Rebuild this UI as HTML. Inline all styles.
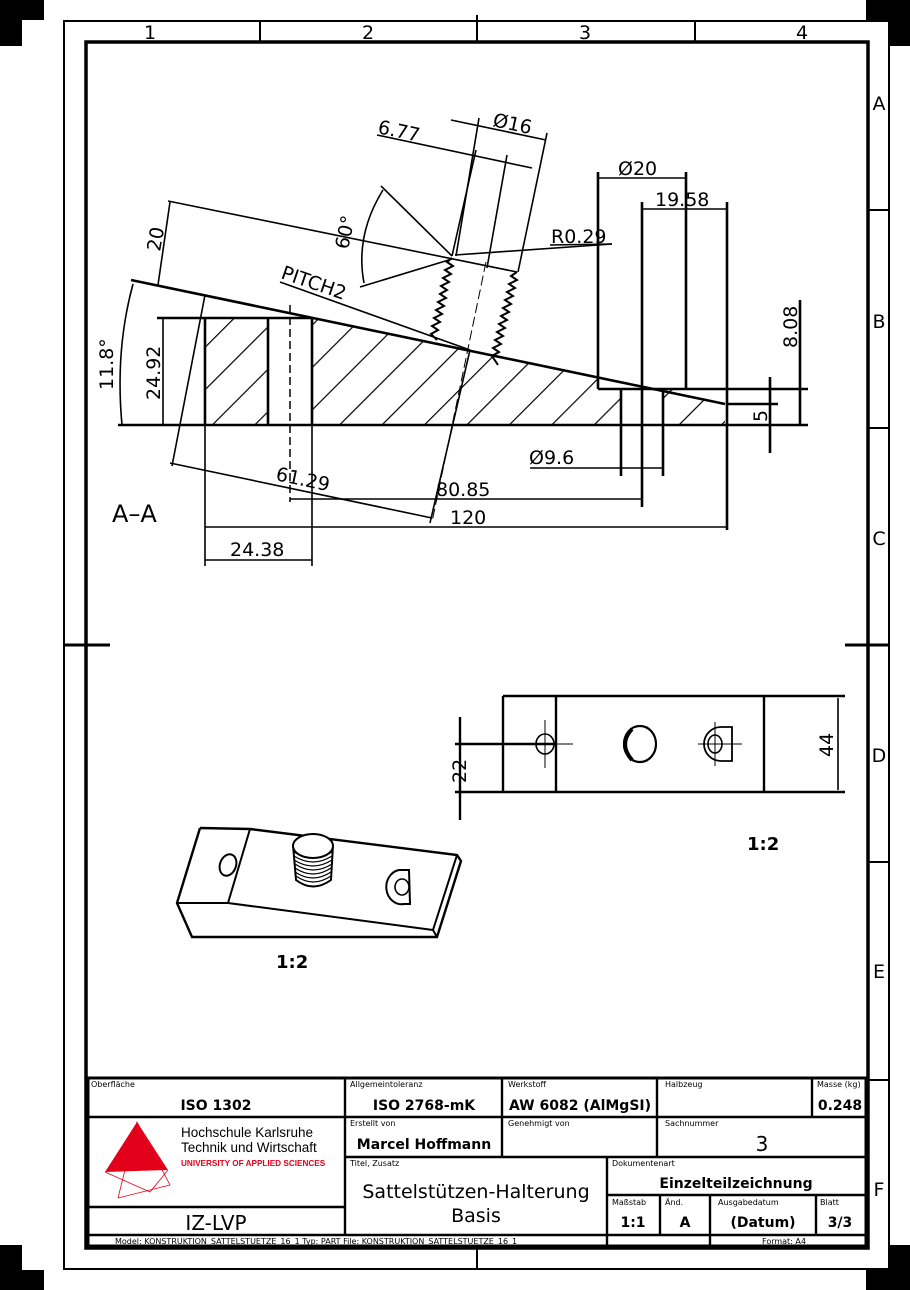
<!DOCTYPE html>
<html><head><meta charset="utf-8"><style>
html,body{margin:0;padding:0;background:#fff;}
svg{display:block}
text{font-family:"DejaVu Sans","Liberation Sans",sans-serif;fill:#000}
</style></head><body>
<svg width="910" height="1290" viewBox="0 0 910 1290" xmlns="http://www.w3.org/2000/svg">
<defs>
<pattern id="h" patternUnits="userSpaceOnUse" width="30" height="30" patternTransform="rotate(45)">
<line x1="0" y1="0" x2="0" y2="30" stroke="#000" stroke-width="2.4"/>
</pattern>
</defs>
<!-- corner marks -->
<rect x="0" y="0" width="44" height="20" fill="#000"/><rect x="0" y="20" width="22" height="26" fill="#000"/>
<rect x="866" y="0" width="44" height="20" fill="#000"/><rect x="888" y="20" width="22" height="26" fill="#000"/>
<rect x="0" y="1270" width="44" height="20" fill="#000"/><rect x="0" y="1245" width="22" height="26" fill="#000"/>
<rect x="866" y="1270" width="44" height="20" fill="#000"/><rect x="888" y="1245" width="22" height="26" fill="#000"/>
<!-- frames -->
<g fill="none" stroke="#000">
<rect x="64" y="21" width="825" height="1248" stroke-width="2"/>
<rect x="86" y="42" width="782" height="1206" stroke-width="3.5"/>
<g stroke-width="2">
<line x1="260" y1="21" x2="260" y2="42"/><line x1="477" y1="15" x2="477" y2="42"/><line x1="695" y1="21" x2="695" y2="42"/>
<line x1="477" y1="1248" x2="477" y2="1270"/>
<line x1="868" y1="210" x2="889" y2="210"/><line x1="868" y1="428" x2="889" y2="428"/><line x1="868" y1="862" x2="889" y2="862"/><line x1="868" y1="1080" x2="889" y2="1080"/>
<line x1="64" y1="645" x2="110" y2="645" stroke-width="3"/><line x1="845" y1="645" x2="889" y2="645" stroke-width="3"/>
</g></g>
<g font-size="19" text-anchor="middle">
<text x="150" y="39">1</text><text x="368" y="39">2</text><text x="585" y="39">3</text><text x="802" y="39">4</text>
<text x="879" y="110">A</text><text x="879" y="328">B</text><text x="879" y="545">C</text><text x="879" y="762">D</text><text x="879" y="978">E</text><text x="879" y="1196">F</text>
</g>

<!-- section view hatching -->
<rect x="205" y="318" width="63" height="107" fill="url(#h)"/>
<polygon points="312,318 598,378 598,389 621,389 621,425 312,425" fill="url(#h)"/>
<polygon points="663,389 686,389 686,394 725,404 725,425 663,425" fill="url(#h)"/>

<g fill="none" stroke="#000" stroke-width="2.6">
<line x1="118" y1="425" x2="808" y2="425"/>
<line x1="157" y1="318" x2="312" y2="318"/>
<line x1="131" y1="280" x2="725" y2="404"/>
<line x1="205" y1="318" x2="205" y2="425"/>
<line x1="268" y1="318" x2="268" y2="425"/>
<line x1="312" y1="318" x2="312" y2="425"/>
<line x1="598" y1="172" x2="598" y2="389"/>
<line x1="686" y1="172" x2="686" y2="389"/>
<line x1="642" y1="202" x2="642" y2="507"/>
<line x1="727" y1="202" x2="727" y2="530"/>
<line x1="621" y1="389" x2="621" y2="476"/>
<line x1="663" y1="389" x2="663" y2="476"/>
<line x1="598" y1="389" x2="808" y2="389"/>
<line x1="727" y1="404" x2="778" y2="404"/>
<line x1="800" y1="300" x2="800" y2="425"/>
<line x1="770" y1="377" x2="770" y2="453"/>
</g>
<line x1="290" y1="305" x2="290" y2="502" stroke="#000" stroke-width="1.5" stroke-dasharray="8,4"/>
<line x1="486" y1="262" x2="432" y2="522" stroke="#000" stroke-width="1" stroke-dasharray="10,4"/>
<!-- threads -->
<g fill="none" stroke="#000" stroke-width="2">
<polyline points="452,258 447,262 453,266 445,270 451,274 443,278 449,282 441,286 447,290 440,294 446,298 438,302 444,306 436,310 442,314 434,318 440,322 432,326 438,330 431,334 437,340"/>
<polyline points="517,272 511,276 517,280 509,284 515,288 507,292 513,296 505,300 511,304 503,308 509,312 501,316 507,320 499,324 505,328 497,332 503,336 495,340 501,344 493,348 499,352 492,356 498,365"/>
</g>
<!-- dims in section -->
<g fill="none" stroke="#000" stroke-width="1.6">
<line x1="168" y1="201" x2="517" y2="272"/>
<line x1="170" y1="202" x2="158" y2="285"/>
<path d="M133,284 Q115,350 122,425"/>
<line x1="163" y1="318" x2="163" y2="425"/>
<line x1="377" y1="135" x2="532" y2="168"/>
<line x1="451" y1="120" x2="546" y2="140"/>
<line x1="479" y1="118" x2="456" y2="256"/>
<line x1="476" y1="150" x2="452" y2="256"/>
<line x1="507" y1="155" x2="487" y2="268"/>
<line x1="547" y1="133" x2="518" y2="272"/>
<line x1="381" y1="186" x2="452" y2="256"/>
<line x1="360" y1="287" x2="452" y2="259"/>
<path d="M383,190 Q355,235 364,283"/>
<line x1="280" y1="282" x2="470" y2="350"/>
<line x1="455" y1="255" x2="612" y2="244"/>
<line x1="550" y1="245" x2="612" y2="244"/>
<line x1="598" y1="178" x2="686" y2="178"/>
<line x1="642" y1="209" x2="727" y2="209"/>
<line x1="530" y1="468" x2="663" y2="468"/>
<line x1="290" y1="499" x2="642" y2="499"/>
<line x1="205" y1="527" x2="727" y2="527"/>
<line x1="205" y1="425" x2="205" y2="566"/>
<line x1="312" y1="425" x2="312" y2="566"/>
<line x1="205" y1="560" x2="312" y2="560"/>
<line x1="205" y1="295" x2="172" y2="466"/>
<line x1="170" y1="463" x2="432" y2="518"/>
<line x1="470" y1="350" x2="430" y2="523"/>
</g>
<g font-size="19">
<text x="377" y="133" transform="rotate(12 377 133)">6.77</text>
<text x="492" y="126" transform="rotate(12 492 126)">Ø16</text>
<text x="160" y="252" transform="rotate(-80 160 252)">20</text>
<text x="348" y="250" transform="rotate(-78 348 250)">60°</text>
<text x="280" y="278" transform="rotate(19 280 278)">PITCH2</text>
<text x="551" y="243">R0.29</text>
<text x="618" y="175">Ø20</text>
<text x="655" y="206">19.58</text>
<text x="797" y="348" transform="rotate(-90 797 348)">8.08</text>
<text x="767" y="422" transform="rotate(-90 767 422)">5</text>
<text x="113" y="390" transform="rotate(-90 113 390)">11.8°</text>
<text x="160" y="400" transform="rotate(-90 160 400)">24.92</text>
<text x="529" y="464">Ø9.6</text>
<text x="275" y="480" transform="rotate(12 275 480)">61.29</text>
<text x="436" y="496">80.85</text>
<text x="450" y="524">120</text>
<text x="230" y="556">24.38</text>
<text x="112" y="522" font-size="24">A–A</text>
</g>

<!-- top view -->
<g fill="none" stroke="#000" stroke-width="2.4">
<line x1="503" y1="696" x2="845" y2="696"/>
<line x1="455" y1="792" x2="845" y2="792"/>
<line x1="503" y1="696" x2="503" y2="792"/>
<line x1="556" y1="696" x2="556" y2="792"/>
<line x1="764" y1="696" x2="764" y2="792"/>
<line x1="460" y1="717" x2="460" y2="820"/>
<line x1="455" y1="744" x2="556" y2="744"/>
<line x1="838" y1="698" x2="838" y2="790" stroke-width="1.6"/>
<ellipse cx="545" cy="744" rx="9" ry="10" stroke-width="1.6"/>
<ellipse cx="640" cy="744" rx="16" ry="18" stroke-width="2.2"/>
<path d="M632,729 Q618,744 632,760" stroke-width="4"/>
<ellipse cx="715" cy="744" rx="7" ry="9" stroke-width="1.6"/>
<path d="M732,727 L721,727 A17,17 0 0 0 721,761 L732,761 Z" stroke-width="1.8"/>
</g>
<g stroke="#000" stroke-width="1">
<line x1="545" y1="720" x2="545" y2="768"/><line x1="532" y1="744" x2="573" y2="744"/>
<line x1="715" y1="722" x2="715" y2="766"/><line x1="698" y1="744" x2="742" y2="744"/>
</g>
<g font-size="19">
<text x="466" y="783" transform="rotate(-90 466 783)">22</text>
<text x="833" y="757" transform="rotate(-90 833 757)">44</text>
</g>
<text x="747" y="850" font-size="18" font-weight="bold">1:2</text>
<text x="276" y="968" font-size="18" font-weight="bold">1:2</text>

<!-- isometric -->
<g fill="none" stroke="#000" stroke-width="2">
<polyline points="200,828 250,829 457,855 461,861 437,937 192,937 177,903 200,828" stroke-width="2.4"/>
<line x1="177" y1="903" x2="228" y2="903"/>
<line x1="228" y1="903" x2="250" y2="829"/>
<line x1="228" y1="903" x2="433" y2="930"/>
<line x1="457" y1="855" x2="433" y2="930"/>
<line x1="433" y1="930" x2="437" y2="937"/>
<ellipse cx="228" cy="865" rx="8" ry="11" transform="rotate(20 228 865)"/>
<path d="M293,845 L296,880 Q313,893 331,880 L333,845" fill="#fff"/>
<ellipse cx="313" cy="846" rx="20" ry="12" fill="#fff"/>
</g>
<g stroke="#000" stroke-width="1.2" fill="none">
<path d="M294,852 Q313,864 332,852"/><path d="M294,856 Q313,868 332,856"/><path d="M294,860 Q313,872 332,860"/>
<path d="M295,864 Q313,876 332,864"/><path d="M295,868 Q313,880 331,868"/><path d="M295,872 Q313,884 331,872"/>
<path d="M296,876 Q313,888 331,876"/>
<path d="M409,870 L399,870 A15,17 0 0 0 404,904 L410,904 Z" stroke-width="2"/>
<ellipse cx="402" cy="887" rx="7" ry="8" stroke-width="1.6"/>
</g>

<!-- title block -->
<g fill="none" stroke="#000" stroke-width="2.4">
<rect x="88" y="1078" width="778" height="168" stroke-width="3"/>
<line x1="88" y1="1117" x2="866" y2="1117"/>
<line x1="345" y1="1157" x2="866" y2="1157"/>
<line x1="88" y1="1207" x2="345" y2="1207"/>
<line x1="88" y1="1235" x2="866" y2="1235"/>
<line x1="607" y1="1195" x2="866" y2="1195"/>
<line x1="345" y1="1078" x2="345" y2="1235"/>
<line x1="502" y1="1078" x2="502" y2="1157"/>
<line x1="657" y1="1078" x2="657" y2="1157"/>
<line x1="812" y1="1078" x2="812" y2="1117"/>
<line x1="607" y1="1157" x2="607" y2="1246"/>
<line x1="660" y1="1195" x2="660" y2="1235"/>
<line x1="710" y1="1195" x2="710" y2="1246"/>
<line x1="816" y1="1195" x2="816" y2="1235"/>
</g>
<g font-size="8">
<text x="91" y="1087">Oberfläche</text><text x="350" y="1087">Allgemeintoleranz</text><text x="508" y="1087">Werkstoff</text>
<text x="665" y="1087">Halbzeug</text><text x="817" y="1087">Masse (kg)</text>
<text x="350" y="1126">Erstellt von</text><text x="508" y="1126">Genehmigt von</text><text x="665" y="1126">Sachnummer</text>
<text x="350" y="1166">Titel, Zusatz</text><text x="612" y="1166">Dokumentenart</text>
<text x="612" y="1205">Maßstab</text><text x="665" y="1205">Änd.</text><text x="718" y="1205">Ausgabedatum</text><text x="820" y="1205">Blatt</text>
<text x="115" y="1244">Model: KONSTRUKTION_SATTELSTUETZE_16_1   Typ: PART   File: KONSTRUKTION_SATTELSTUETZE_16_1</text>
<text x="762" y="1244">Format: A4</text>
</g>
<g font-size="14" font-weight="bold" text-anchor="middle">
<text x="216" y="1110">ISO 1302</text><text x="424" y="1110">ISO 2768-mK</text><text x="580" y="1110">AW 6082 (AlMgSI)</text>
<text x="840" y="1110">0.248</text><text x="424" y="1149">Marcel Hoffmann</text>
<text x="736" y="1188">Einzelteilzeichnung</text>
<text x="633" y="1227">1:1</text><text x="685" y="1227">A</text><text x="763" y="1227">(Datum)</text><text x="840" y="1227">3/3</text>
</g>
<text x="762" y="1151" font-size="20" text-anchor="middle">3</text>
<g font-size="19" text-anchor="middle">
<text x="476" y="1198">Sattelstützen-Halterung</text><text x="476" y="1222">Basis</text>
<text x="216" y="1230" font-size="20">IZ-LVP</text>
</g>
<!-- logo -->
<polygon points="105,1172 137,1122 168,1170" fill="#e2001a"/>
<g fill="none" stroke="#e2001a" stroke-width="0.8">
<polyline points="118,1198 137,1122 170,1185 118,1198"/>
<polyline points="105,1172 150,1192 168,1170"/>
</g>
<g font-family="Liberation Sans" font-size="13.5">
<text x="181" y="1137" style="font-family:'Liberation Sans',sans-serif">Hochschule Karlsruhe</text>
<text x="181" y="1152" style="font-family:'Liberation Sans',sans-serif">Technik und Wirtschaft</text>
</g>
<text x="181" y="1166" font-size="8.2" font-weight="bold" fill="#e2001a" style="fill:#e2001a;font-family:'Liberation Sans',sans-serif">UNIVERSITY OF APPLIED SCIENCES</text>
</svg>
</body></html>
